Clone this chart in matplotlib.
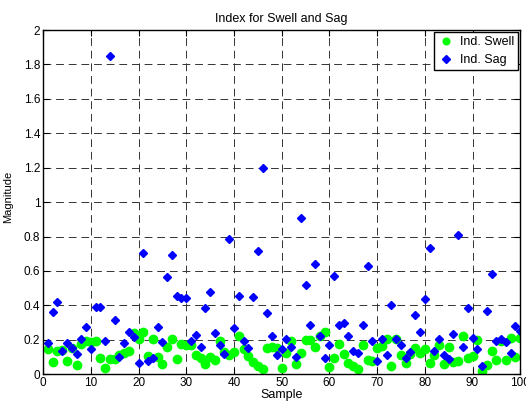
import numpy as np
import matplotlib
matplotlib.use('Agg')
import matplotlib.pyplot as plt
from matplotlib.ticker import FormatStrFormatter

plt.rcParams['font.family'] = ['Liberation Sans', 'DejaVu Sans']

# indice de swell e sag por amostra
amostras = np.arange(1, 101)

swell = [0.145, 0.068, 0.135, 0.14, 0.076, 0.15, 0.052, 0.175, 0.19, 0.188,
         0.19, 0.095, 0.038, 0.088, 0.088, 0.11, 0.124, 0.137, 0.242, 0.206,
         0.244, 0.104, 0.207, 0.102, 0.058, 0.16, 0.205, 0.087, 0.178, 0.172,
         0.17, 0.112, 0.095, 0.06, 0.1, 0.08, 0.19, 0.13, 0.11, 0.13,
         0.223, 0.147, 0.108, 0.07, 0.05, 0.032, 0.15, 0.155, 0.15, 0.035,
         0.12, 0.195, 0.06, 0.12, 0.2, 0.198, 0.16, 0.22, 0.243, 0.042,
         0.094, 0.175, 0.118, 0.066, 0.048, 0.032, 0.167, 0.08, 0.078, 0.153,
         0.165, 0.206, 0.05, 0.206, 0.113, 0.065, 0.118, 0.15, 0.122, 0.148,
         0.062, 0.113, 0.172, 0.056, 0.16, 0.072, 0.075, 0.22, 0.093, 0.108,
         0.2, 0.018, 0.055, 0.132, 0.085, 0.19, 0.082, 0.212, 0.1, 0.21]

sag = [0.18, 0.36, 0.42, 0.135, 0.18, 0.15, 0.115, 0.205, 0.275, 0.148,
       0.39, 0.39, 0.19, 1.85, 0.317, 0.10, 0.18, 0.243, 0.214, 0.062,
       0.705, 0.078, 0.093, 0.274, 0.188, 0.563, 0.69, 0.452, 0.44, 0.44,
       0.19, 0.228, 0.155, 0.385, 0.478, 0.237, 0.167, 0.118, 0.783, 0.266,
       0.456, 0.19, 0.15, 0.45, 0.715, 1.2, 0.355, 0.22, 0.113, 0.144,
       0.206, 0.155, 0.097, 0.908, 0.516, 0.287, 0.64, 0.22, 0.095, 0.17,
       0.569, 0.285, 0.30, 0.22, 0.136, 0.12, 0.285, 0.631, 0.194, 0.074,
       0.206, 0.109, 0.402, 0.206, 0.167, 0.093, 0.128, 0.344, 0.243, 0.437,
       0.734, 0.136, 0.202, 0.113, 0.089, 0.233, 0.808, 0.157, 0.384, 0.21,
       0.148, 0.047, 0.365, 0.583, 0.194, 0.206, 0.184, 0.12, 0.28, 0.249]

fig = plt.figure(figsize=(5.26, 4.01), dpi=100)
ax = fig.add_axes([0.082, 0.067, 0.907, 0.858])

ax.plot(amostras, swell, 'o', color='#00ff00', markersize=6, label='Ind. Swell')
ax.plot(amostras, sag, 'D', color='#0000ff', markersize=4.5, label='Ind. Sag')

ax.set_xlim(0, 100)
ax.set_ylim(0, 2)
ax.set_xticks(np.arange(0, 101, 10))
ax.set_yticks(np.arange(0, 2.01, 0.2))
ax.yaxis.set_major_formatter(FormatStrFormatter('%g'))
ax.tick_params(direction='in', top=True, right=True, labelsize=8.5, length=4, pad=2)
ax.grid(True, color='#333333', linestyle=(0, (8, 5)), linewidth=0.7)
ax.set_axisbelow(True)
for s in ax.spines.values():
    s.set_linewidth(1.0)

ax.set_title('Index for Swell and Sag', fontsize=9, pad=6)
ax.set_xlabel('Sample', fontsize=9, labelpad=0)
ax.set_ylabel('Magnitude', fontsize=8, labelpad=3)
ax.yaxis.set_label_coords(-0.062, 0.515)

leg = ax.legend(loc='upper right', fontsize=9, fancybox=False, framealpha=1,
                edgecolor='black', borderaxespad=0.15, handletextpad=0.5,
                borderpad=0.35, labelspacing=0.45, handlelength=1.2,
                markerscale=0.8)
leg.get_frame().set_linewidth(1.0)

plt.savefig('out.png', dpi=100)
